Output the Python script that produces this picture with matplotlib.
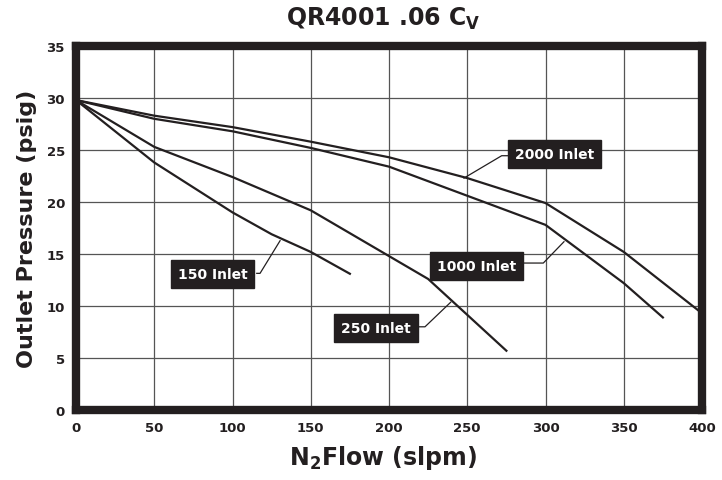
import matplotlib
matplotlib.use("Agg")
import matplotlib.pyplot as plt

plt.rcParams['font.family'] = ['DejaVu Sans']
plt.rcParams['mathtext.fontset'] = 'dejavusans'

# ---- data ----
x_2000 = [0, 50, 100, 150, 200, 250, 300, 350, 400]
y_2000 = [29.8, 28.3, 27.2, 25.8, 24.3, 22.3, 19.9, 15.2, 9.3]

x_1000 = [0, 50, 100, 150, 200, 250, 300, 350, 375]
y_1000 = [29.8, 28.0, 26.8, 25.2, 23.4, 20.6, 17.8, 12.2, 8.9]

x_250 = [0, 50, 100, 150, 200, 225, 275]
y_250 = [29.8, 25.3, 22.4, 19.2, 14.8, 12.6, 5.7]

x_150 = [0, 50, 100, 125, 150, 175]
y_150 = [29.8, 23.8, 19.0, 16.9, 15.2, 13.1]

x_ticks = [0, 50, 100, 150, 200, 250, 300, 350, 400]
y_ticks = [0, 5, 10, 15, 20, 25, 30, 35]

labels = ["150 Inlet", "250 Inlet", "1000 Inlet", "2000 Inlet"]
label_xy = [(87.2, 13.1), (191.7, 7.85), (255.8, 13.85), (305.8, 24.6)]
leader_x = [[115.5, 117.6, 130.4], [219.4, 223.0, 239.4],
            [285.8, 298.6, 311.8], [276.2, 272.0, 247.9]]
leader_y = [[13.14, 13.14, 16.28], [8.0, 8.0, 10.36],
            [14.13, 14.13, 16.18], [24.45, 24.45, 22.3]]

ink = '#231f20'

fig = plt.figure(figsize=(7.22, 4.81), dpi=100)
ax = fig.add_axes([76 / 722, 1 - 411 / 481, (702 - 76) / 722, (411 - 47) / 481])

for xs, ys in [(x_2000, y_2000), (x_1000, y_1000), (x_250, y_250), (x_150, y_150)]:
    ax.plot(xs, ys, color=ink, lw=1.6, solid_joinstyle='miter', zorder=3)

for lx, ly in zip(leader_x, leader_y):
    ax.plot(lx, ly, color=ink, lw=0.9, zorder=3)

for txt, (tx, ty) in zip(labels, label_xy):
    ax.text(tx, ty, txt, color='white', fontsize=10, fontweight='bold',
            ha='center', va='center', zorder=5,
            bbox=dict(boxstyle='square,pad=0.5', fc=ink, ec=ink))

ax.set_xlim(0, 400)
ax.set_ylim(0, 35)
ax.set_xticks(x_ticks)
ax.set_yticks(y_ticks)
ax.grid(True, color='#555555', lw=0.9, zorder=1)
ax.tick_params(length=0, pad=8, labelsize=9.5, colors=ink)
for lab in ax.get_xticklabels() + ax.get_yticklabels():
    lab.set_fontweight('bold')
for s in ax.spines.values():
    s.set_linewidth(6)
    s.set_color(ink)
    s.set_zorder(4)

fig.text(383 / 722, 1 - 26 / 481, r'QR4001 .06 C$_{\mathbf{V}}$', ha='center',
         va='baseline', fontsize=17, fontweight='bold', color=ink)
fig.text(383 / 722, 1 - 465 / 481, r'N$_{\mathbf{2}}$Flow (slpm)', ha='center',
         va='baseline', fontsize=17, fontweight='bold', color=ink)
fig.text(27 / 722, 1 - 229 / 481, 'Outlet Pressure (psig)', ha='center',
         va='center', rotation=90, fontsize=16, fontweight='bold', color=ink)

fig.savefig('out.png', dpi=100)
